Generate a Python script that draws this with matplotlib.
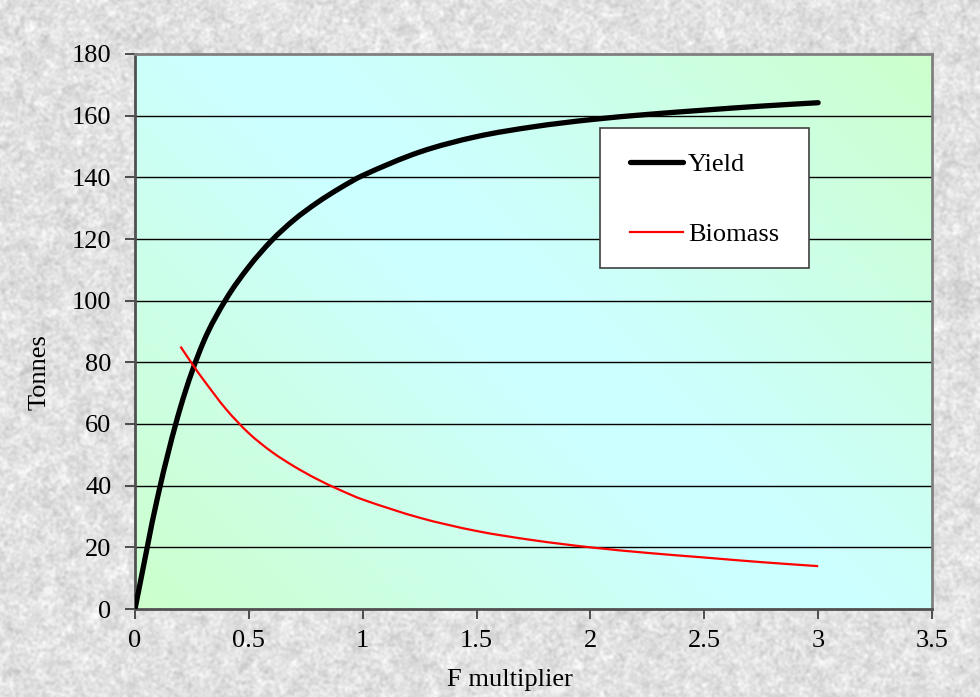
import numpy as np
import matplotlib
matplotlib.use("Agg")
import matplotlib.pyplot as plt
from matplotlib.colors import LinearSegmentedColormap
from matplotlib.ticker import FuncFormatter
from matplotlib.path import Path
from matplotlib.patches import PathPatch, Rectangle
from matplotlib.lines import Line2D

# F multiplier values and the resulting yield / spawning biomass (tonnes)
f_yield = [0, 0.1, 0.2, 0.3, 0.4, 0.5, 0.6, 0.7, 0.8, 0.9, 1.0,
           1.25, 1.5, 1.75, 2.0, 2.25, 2.5, 2.75, 3.0]
yield_t = [0, 36.5, 65.5, 86.5, 100.5, 111.0, 119.5, 126.3, 131.8, 136.5, 140.6,
           148.2, 153.2, 156.4, 158.7, 160.4, 161.8, 163.1, 164.2]

f_bio = [0.2, 0.25, 0.3, 0.4, 0.5, 0.6, 0.7, 0.8, 0.9, 1.0,
         1.25, 1.5, 1.75, 2.0, 2.25, 2.5, 2.75, 3.0]
biomass_t = [85.1, 79.6, 74.4, 64.8, 57.0, 51.0, 46.2, 42.1, 38.6, 35.5,
             29.6, 25.3, 22.3, 20.0, 18.2, 16.7, 15.2, 13.9]

x_ticks = [0, 0.5, 1, 1.5, 2, 2.5, 3, 3.5]
y_ticks = list(range(0, 181, 20))

plt.rcParams['font.family'] = ['Liberation Serif', 'DejaVu Serif']
FS = 19


def smooth_path(xs, ys):
    # smoothed line: cubic Hermite segments drawn as Bezier curves
    x = np.asarray(xs, float)
    y = np.asarray(ys, float)
    m = np.empty_like(y)
    m[1:-1] = (y[2:] - y[:-2]) / (x[2:] - x[:-2])
    m[0] = (y[1] - y[0]) / (x[1] - x[0])
    m[-1] = (y[-1] - y[-2]) / (x[-1] - x[-2])
    verts = [(x[0], y[0])]
    codes = [Path.MOVETO]
    for i in range(len(x) - 1):
        h = (x[i + 1] - x[i]) / 3.0
        verts += [(x[i] + h, y[i] + m[i] * h),
                  (x[i + 1] - h, y[i + 1] - m[i + 1] * h),
                  (x[i + 1], y[i + 1])]
        codes += [Path.CURVE4] * 3
    return Path(verts, codes)


def blur(a, n, passes=2):
    k = np.ones(n) / n
    for _ in range(passes):
        a = np.apply_along_axis(lambda r: np.convolve(r, k, mode='same'), 1, a)
        a = np.apply_along_axis(lambda c: np.convolve(c, k, mode='same'), 0, a)
    return a


W, H = 980, 697
fig = plt.figure(figsize=(W / 100, H / 100), dpi=100)

# granite-like grey backdrop (blurred on a larger sheet, then trimmed)
rng = np.random.RandomState(7)
M = 40
fine = blur(rng.rand(H + 2 * M, W + 2 * M), 3)[M:-M, M:-M]
coarse = blur(rng.rand(H + 2 * M, W + 2 * M), 9)[M:-M, M:-M]
noise = 0.6 * (fine - fine.mean()) / fine.std() + 0.4 * (coarse - coarse.mean()) / coarse.std()
noise = np.clip((noise + 2.5) / 5.0, 0, 1)
tex = 0.78 + 0.21 * noise
fig.figimage(np.dstack([tex, tex, tex]), xo=0, yo=0, zorder=-10)

ax = fig.add_axes([135 / W, 1 - 609 / H, (932 - 135) / W, (609 - 54) / H])
ax.set_zorder(1)
ax.set_xlim(0, 3.5)
ax.set_ylim(0, 180)

# diagonal green-cyan-green fill of the plot area
gx, gy = np.meshgrid(np.linspace(0, 1, 300), np.linspace(0, 1, 300))
t = (gx * 797 + gy * 555) / (797 + 555)
grad_cmap = LinearSegmentedColormap.from_list(
    'gc', [(0, '#ccffcc'), (0.45, '#ccffff'), (0.55, '#ccffff'), (1, '#ccffcc')], N=256)
ax.imshow(t, cmap=grad_cmap, extent=[0, 3.5, 0, 180],
          origin='lower', aspect='auto', zorder=0, vmin=0, vmax=1)
ax.set_facecolor('#ccffff')

for yv in y_ticks[1:-1]:
    ax.axhline(yv, color='black', lw=1.0, zorder=1)

ax.add_patch(PathPatch(smooth_path(f_yield, yield_t), facecolor='none',
                       edgecolor='black', lw=3.8, capstyle='round', zorder=3))
ax.add_patch(PathPatch(smooth_path(f_bio, biomass_t), facecolor='none',
                       edgecolor='#ff0000', lw=1.6, zorder=3))

ax.set_xticks(x_ticks)
ax.set_yticks(y_ticks)
ax.xaxis.set_major_formatter(FuncFormatter(lambda v, p: '%g' % v))
ax.tick_params(axis='both', direction='out', length=7, width=1.2,
               color='#333333', labelsize=FS)
ax.tick_params(axis='y', pad=10)
ax.tick_params(axis='x', pad=8)

for side in ['left', 'bottom']:
    ax.spines[side].set_color('#505050')
    ax.spines[side].set_linewidth(2)
for side in ['top', 'right']:
    ax.spines[side].set_color('#808080')
    ax.spines[side].set_linewidth(2)

fig.text(510 / W, 1 - 680 / H, 'F multiplier', fontsize=FS,
         ha='center', va='center')
fig.text(40 / W, 1 - 372 / H, 'Tonnes', fontsize=FS, rotation=90,
         ha='center', va='center')

# legend: white box with the two line keys
fig.add_artist(Rectangle((600 / W, 1 - 268 / H), 209 / W, 140 / H,
                         transform=fig.transFigure, facecolor='white',
                         edgecolor='#404040', lw=1.2, zorder=4))
handles = [Line2D([], [], color='black', lw=3.8, solid_capstyle='round'),
           Line2D([], [], color='#ff0000', lw=1.6)]
leg = fig.legend(handles, ['Yield', 'Biomass'], loc='upper left',
                 bbox_to_anchor=(630 / W, 1 - 153 / H),
                 fontsize=FS, frameon=False,
                 borderpad=0, labelspacing=1.76, handlelength=2.0,
                 handletextpad=0.2, borderaxespad=0)
leg.set_zorder(5)

fig.savefig('out.png', dpi=100)
